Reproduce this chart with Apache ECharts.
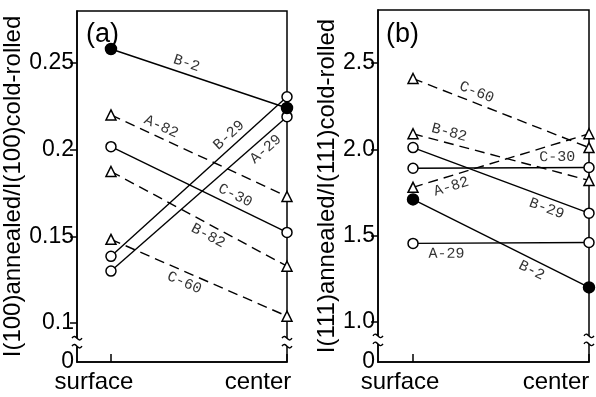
<!DOCTYPE html>
<html>
<head>
<meta charset="utf-8">
<script src="https://cdn.jsdelivr.net/npm/echarts@6/dist/echarts.min.js"></script>
<style>
  html, body { margin: 0; padding: 0; background: #fff; }
  #chart { width: 596px; height: 397px; }
</style>
</head>
<body>
<div id="chart"></div>
<script>
// x positions: 0 = surface, 1 = center
const positions = ['surface', 'center'];

// panel (a): I(100) ratio
const namesA = ['B-2', 'A-82', 'B-29', 'A-29', 'C-30', 'B-82', 'C-60'];
const surfaceA = [0.258, 0.220, 0.1385, 0.130, 0.2017, 0.1874, 0.1483];
const centerA = [0.224, 0.173, 0.2305, 0.219, 0.1523, 0.1328, 0.104];
const tickValuesA = [0.1, 0.15, 0.2, 0.25];
const tickLabelsA = ['0.1', '0.15', '0.2', '0.25'];

// panel (b): I(111) ratio
const namesB = ['C-60', 'B-82', 'B-29', 'C-30', 'A-82', 'B-2', 'A-29'];
const surfaceB = [2.41, 2.09, 2.01, 1.89, 1.78, 1.71, 1.455];
const centerB = [2.01, 1.82, 1.63, 1.895, 2.09, 1.20, 1.46];
const tickValuesB = [1.0, 1.5, 2.0, 2.5];
const tickLabelsB = ['1.0', '1.5', '2.0', '2.5'];

// styling per series (marker, where the tag sits along the line)
const styleA = {
  marker: ['filled', 'tri', 'open', 'open', 'open', 'tri', 'tri'],
  tagAt: [0.41, 0.26, 0.71, 0.84, 0.68, 0.58, 0.44],
  tagPos: ['insideMiddleTop', 'insideMiddleTop', 'insideMiddleTop', 'insideMiddleBottom', 'middle', 'insideMiddleBottom', 'insideMiddleBottom']
};
const styleB = {
  marker: ['tri', 'tri', 'open', 'open', 'tri', 'filled', 'open'],
  tagAt: [0.34, 0.19, 0.78, 0.82, 0.2, 0.7, 0.19],
  tagPos: ['insideMiddleTop', 'insideMiddleTop', 'insideMiddleBottom', 'insideMiddleTop', 'insideMiddleBottom', 'insideMiddleBottom', 'insideMiddleBottom']
};

const FONT = 'Liberation Sans, Arial, sans-serif';
const TAGFONT = 'Liberation Mono, DejaVu Sans Mono, monospace';

function makeSeries(names, surf, cent, st, gridIndex) {
  return names.map((name, i) => {
    const m = st.marker[i];
    const dashed = m === 'tri';
    // markLine segment whose middle lands at tagAt along the line (only places the tag)
    const f = st.tagAt[i];
    const a = Math.max(0, 2 * f - 1), b = Math.min(1, 2 * f);
    const at = t => surf[i] + (cent[i] - surf[i]) * t;
    return {
      name: name,
      type: 'line',
      xAxisIndex: gridIndex,
      yAxisIndex: gridIndex,
      data: [[0, surf[i]], [1, cent[i]]],
      clip: false,
      symbol: m === 'tri' ? 'triangle' : 'circle',
      symbolSize: m === 'tri' ? 10 : (m === 'filled' ? 11 : 10),
      itemStyle: {
        color: m === 'filled' ? '#000' : '#fff',
        borderColor: '#000',
        borderWidth: 1.5
      },
      lineStyle: {
        color: '#000',
        width: 1.4,
        type: dashed ? [10, 6] : 'solid'
      },
      z: m === 'filled' ? 4 : 3,
      markLine: {
        silent: true,
        symbol: 'none',
        animation: false,
        lineStyle: { color: 'rgba(0,0,0,0)', width: 1 },
        label: {
          show: true,
          position: st.tagPos[i],
          formatter: name,
          fontFamily: TAGFONT,
          fontSize: 15,
          color: '#333',
          distance: 3,
          backgroundColor: st.tagPos[i] === 'middle' ? '#fff' : 'transparent',
          padding: [0, 1]
        },
        data: [[{ coord: [a, at(a)] }, { coord: [b, at(b)] }]]
      }
    };
  });
}

function makeYAxis(gridIndex, min, max, ticks, labels, title, gap) {
  return {
    type: 'value',
    gridIndex: gridIndex,
    min: min,
    max: max,
    name: title,
    nameLocation: 'middle',
    nameGap: gap,
    nameTextStyle: { fontFamily: FONT, fontSize: 24, color: '#000' },
    splitLine: { show: false },
    axisLine: { show: true, onZero: false, lineStyle: { color: '#000', width: 1.5 } },
    axisTick: { show: true, length: 7, customValues: ticks, lineStyle: { color: '#000', width: 1.5 } },
    axisLabel: {
      customValues: [min].concat(ticks),
      margin: 3,
      fontFamily: FONT,
      fontSize: 23,
      color: '#000',
      formatter: v => v === min ? '0' : labels[ticks.indexOf(v)]
    }
  };
}

function makeXAxis(gridIndex, min, shiftS, shiftC) {
  return {
    type: 'value',
    gridIndex: gridIndex,
    min: min,
    max: 1,
    splitLine: { show: false },
    axisLine: { show: true, onZero: false, lineStyle: { color: '#000', width: 1.5 } },
    axisTick: { show: true, inside: true, length: 8, customValues: [0, 1], lineStyle: { color: '#000', width: 1.5 } },
    axisLabel: {
      customValues: [0, 1],
      margin: 8,
      formatter: v => (v === 0 ? '{s|' : '{c|') + positions[Math.round(v)] + '}',
      rich: {
        s: { fontFamily: FONT, fontSize: 24, color: '#000', padding: [0, shiftS, 0, 0] },
        c: { fontFamily: FONT, fontSize: 24, color: '#000', padding: [0, shiftC, 0, 0] }
      }
    }
  };
}

const yMinA = 0.0776, yMaxA = 0.2799;
const yMinB = 0.768, yMaxB = 2.807;

const option = {
  animation: false,
  backgroundColor: '#fff',
  title: [
    { text: '(a)', left: 81, top: 16, textStyle: { fontFamily: FONT, fontSize: 27, fontWeight: 'normal', color: '#000' } },
    { text: '(b)', left: 381, top: 16, textStyle: { fontFamily: FONT, fontSize: 27, fontWeight: 'normal', color: '#000' } }
  ],
  grid: [
    { left: 76, top: 11, width: 211, height: 351, show: true, borderColor: '#000', borderWidth: 1.5, backgroundColor: 'transparent' },
    { left: 378, top: 10, width: 211, height: 352, show: true, borderColor: '#000', borderWidth: 1.5, backgroundColor: 'transparent' }
  ],
  xAxis: [
    makeXAxis(0, -0.193, 34, 58),
    makeXAxis(1, -0.199, 26, 66)
  ],
  yAxis: [
    makeYAxis(0, yMinA, yMaxA, tickValuesA, tickLabelsA, 'I(100)annealed/I(100)cold-rolled', 52),
    makeYAxis(1, yMinB, yMaxB, tickValuesB, tickLabelsB, 'I(111)annealed/I(111)cold-rolled', 32)
  ],
  series: makeSeries(namesA, surfaceA, centerA, styleA, 0)
    .concat(makeSeries(namesB, surfaceB, centerB, styleB, 1))
};

const chart = echarts.init(document.getElementById('chart'), null, { renderer: 'canvas' });
chart.setOption(option);

// axis-break marks on both side edges of each panel
function breakMarks(gridIndex, xVals, yVal) {
  const out = [];
  xVals.forEach(xv => {
    const p = chart.convertToPixel({ gridIndex: gridIndex }, [xv, yVal]);
    const x = p[0], y = p[1];
    out.push({ type: 'rect', z: 50, shape: { x: x - 3, y: y - 4, width: 6, height: 8 }, style: { fill: '#fff' } });
    [-4, 4].forEach(d => {
      out.push({
        type: 'bezierCurve', z: 51,
        shape: { x1: x - 5, y1: y + d, x2: x + 5, y2: y + d, cpx1: x - 1, cpy1: y + d - 6, cpx2: x + 1, cpy2: y + d + 6 },
        style: { stroke: '#000', lineWidth: 1.4, fill: null }
      });
    });
  });
  return out;
}

chart.setOption({
  graphic: breakMarks(0, [-0.193, 1], 0.089).concat(breakMarks(1, [-0.199, 1], 0.896))
});
</script>
</body>
</html>
